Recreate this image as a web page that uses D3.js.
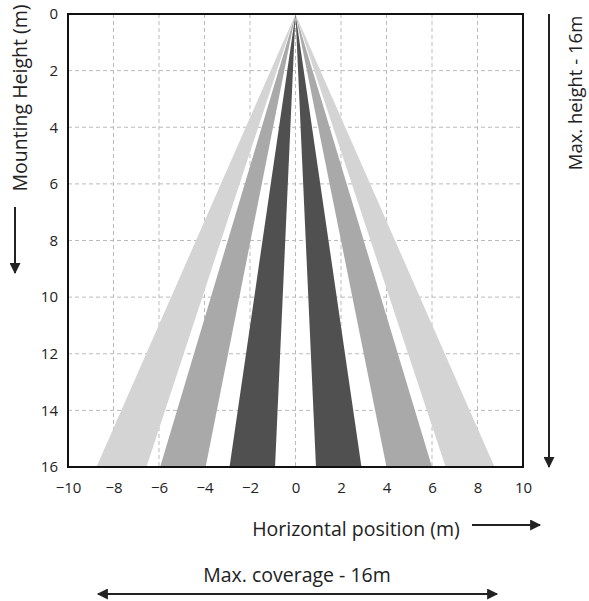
<!DOCTYPE html>
<html>
<head>
<meta charset="utf-8">
<script src="https://cdn.jsdelivr.net/npm/d3@7"></script>
<style>
  body { margin: 0; background: #fff; }
  text { font-family: "Open Sans", "Noto Sans", sans-serif; fill: #222; }
</style>
</head>
<body>
<div id="chart"></div>
<script>
// beams: [left edge, right edge] at the max height (16 m), all start from (0, 0)
var beamNames = ['outerL', 'midL', 'innerL', 'innerR', 'midR', 'outerR'];
var beamLeft  = [-8.75, -5.95, -2.9, 0.9, 4.0, 6.6];
var beamRight = [-6.55, -3.95, -0.9, 2.9, 6.0, 8.75];
var beamShade = ['#d4d4d4', '#a9a9a9', '#505050', '#505050', '#a9a9a9', '#d4d4d4'];
var xTicks = [-10, -8, -6, -4, -2, 0, 2, 4, 6, 8, 10];
var yTicks = [0, 2, 4, 6, 8, 10, 12, 14, 16];
var maxHeight = 16;

var W = 589, H = 601;
var margins = { top: 14, left: 68, right: 66, bottom: 134 };
var width = W - margins.left - margins.right,
    height = H - margins.top - margins.bottom;

var svg = d3.select('div#chart')
            .append('svg')
            .attr('width', W)
            .attr('height', H);

svg.append('defs').append('marker')
   .attr('id', 'arr')
   .attr('viewBox', '0 0 10 10')
   .attr('refX', 9).attr('refY', 5)
   .attr('markerWidth', 6).attr('markerHeight', 5.5)
   .attr('orient', 'auto-start-reverse')
   .append('path')
   .attr('d', 'M0,0 L10,5 L0,10 Z')
   .attr('fill', '#222');

var xScale = d3.scaleLinear().domain([-10, 10]).range([0, width]);
var yScale = d3.scaleLinear().domain([0, 16]).range([0, height]);

var g = svg.append('g')
           .attr('transform', 'translate(' + margins.left + ',' + margins.top + ')');

// grid
g.selectAll('line.vgrid')
 .data(xTicks.slice(1, -1))
 .enter().append('line')
 .attr('x1', d => xScale(d)).attr('x2', d => xScale(d))
 .attr('y1', 0).attr('y2', height)
 .attr('stroke', '#bbb').attr('stroke-dasharray', '4,3');

g.selectAll('line.hgrid')
 .data(yTicks.slice(1, -1))
 .enter().append('line')
 .attr('y1', d => yScale(d)).attr('y2', d => yScale(d))
 .attr('x1', 0).attr('x2', width)
 .attr('stroke', '#bbb').attr('stroke-dasharray', '4,3');

// beams
var beams = beamNames.map(function (n, i) {
  return { name: n, left: beamLeft[i], right: beamRight[i], fill: beamShade[i] };
});

g.selectAll('path.beam')
 .data(beams)
 .enter().append('path')
 .attr('d', function (d) {
   return 'M' + xScale(0) + ',' + yScale(0) +
          'L' + xScale(d.left) + ',' + yScale(maxHeight) +
          'L' + xScale(d.right) + ',' + yScale(maxHeight) + 'Z';
 })
 .attr('fill', d => d.fill);

// frame
g.append('rect')
 .attr('width', width).attr('height', height)
 .attr('fill', 'none').attr('stroke', '#111').attr('stroke-width', 2);

// axes (labels only)
var xAxis = d3.axisBottom(xScale).tickValues(xTicks).tickSize(0).tickPadding(15);
var yAxis = d3.axisLeft(yScale).tickValues(yTicks).tickSize(0).tickPadding(10);

var gx = g.append('g').attr('transform', 'translate(0,' + height + ')').call(xAxis);
var gy = g.append('g').call(yAxis);
[gx, gy].forEach(function (a) {
  a.select('.domain').remove();
  a.selectAll('text').style('font-size', '15px')
   .style('font-family', '"Open Sans", sans-serif').attr('fill', '#222')
   .text(d => String(d).replace('-', '\u2212'));
});

// y title + arrow
svg.append('text')
   .attr('transform', 'translate(27,98) rotate(-90)')
   .attr('text-anchor', 'middle')
   .style('font-size', '19.5px')
   .text('Mounting Height (m)');
svg.append('line')
   .attr('x1', 15).attr('x2', 15).attr('y1', 207).attr('y2', 273)
   .attr('stroke', '#222').attr('stroke-width', 2)
   .attr('marker-end', 'url(#arr)');

// right annotation
svg.append('line')
   .attr('x1', 549).attr('x2', 549).attr('y1', margins.top).attr('y2', margins.top + height)
   .attr('stroke', '#222').attr('stroke-width', 2)
   .attr('marker-end', 'url(#arr)');
svg.append('text')
   .attr('transform', 'translate(582,93) rotate(-90)')
   .attr('text-anchor', 'middle')
   .style('font-size', '18.5px')
   .text('Max. height - 16m');

// x title + arrow
svg.append('text')
   .attr('x', 356).attr('y', 536)
   .attr('text-anchor', 'middle')
   .style('font-size', '19.5px')
   .text('Horizontal position (m)');
svg.append('line')
   .attr('x1', 472).attr('x2', 540).attr('y1', 525).attr('y2', 525)
   .attr('stroke', '#222').attr('stroke-width', 2)
   .attr('marker-end', 'url(#arr)');

// coverage annotation
svg.append('text')
   .attr('x', 297).attr('y', 582)
   .attr('text-anchor', 'middle')
   .style('font-size', '19.5px')
   .text('Max. coverage - 16m');
svg.append('line')
   .attr('x1', 98).attr('x2', 497).attr('y1', 594).attr('y2', 594)
   .attr('stroke', '#222').attr('stroke-width', 2)
   .attr('marker-start', 'url(#arr)')
   .attr('marker-end', 'url(#arr)');
</script>
</body>
</html>
